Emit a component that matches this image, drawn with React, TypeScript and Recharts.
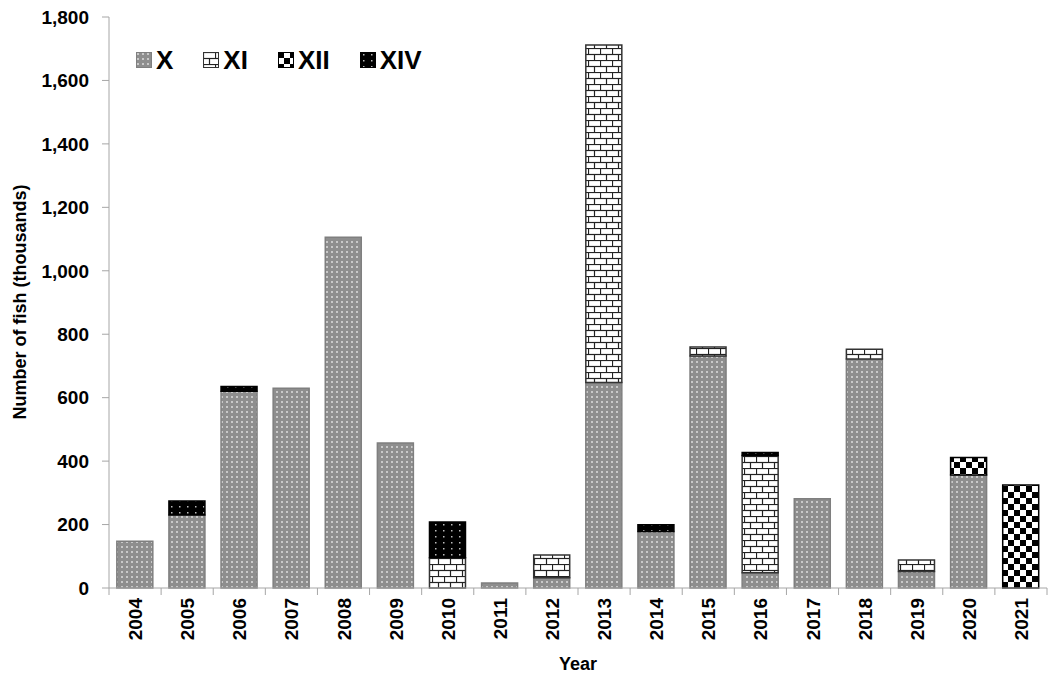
import { BarChart, Bar, XAxis, YAxis } from 'recharts';

const years = ['2004', '2005', '2006', '2007', '2008', '2009', '2010', '2011', '2012',
  '2013', '2014', '2015', '2016', '2017', '2018', '2019', '2020', '2021'];
const zoneX = [147, 230, 620, 630, 1106, 457, 0, 16, 32, 648, 178, 731, 48, 281, 722, 52, 356, 0];
const zoneXI = [0, 0, 0, 0, 0, 0, 95, 0, 72, 1064, 0, 29, 370, 0, 31, 36, 0, 0];
const zoneXII = [0, 0, 0, 0, 0, 0, 0, 0, 0, 0, 0, 0, 0, 0, 0, 0, 55, 325];
const zoneXIV = [0, 44, 15, 0, 0, 0, 113, 0, 0, 0, 21, 0, 9, 0, 0, 0, 0, 0];
const yTicks = [0, 200, 400, 600, 800, 1000, 1200, 1400, 1600, 1800];

const series = [
  { key: 'X', fill: 'url(#patX)', stroke: '#7f7f7f' },
  { key: 'XI', fill: 'url(#patXI)', stroke: '#333333' },
  { key: 'XII', fill: 'url(#patXII)', stroke: '#000000' },
  { key: 'XIV', fill: 'url(#patXIV)', stroke: '#000000' },
];

const data = years.map((year, i) => ({
  year,
  X: zoneX[i],
  XI: zoneXI[i],
  XII: zoneXII[i],
  XIV: zoneXIV[i],
}));

const FONT = '"Liberation Sans", Arial, sans-serif';
const W = 1050;
const H = 678;
const LEFT = 109;
const RIGHT = 3;
const BAND = (W - LEFT - RIGHT) / years.length;

function XTick(props: any) {
  const { x, y, payload, index } = props;
  const last = index === years.length - 1;
  return (
    <g>
      <line x1={x - BAND / 2} y1={y} x2={x - BAND / 2} y2={y + 7} stroke="#a6a6a6" />
      {last && <line x1={x + BAND / 2} y1={y} x2={x + BAND / 2} y2={y + 7} stroke="#a6a6a6" />}
      <text
        transform={`translate(${x + 7},${y + 10}) rotate(-90)`}
        textAnchor="end"
        fontFamily={FONT}
        fontWeight="bold"
        fontSize={19}
        fill="#000"
      >
        {payload.value}
      </text>
    </g>
  );
}

// legend sits inside the plot, top left
function LegendBox() {
  return (
    <div
      style={{
        position: 'absolute',
        left: 136,
        top: 46,
        display: 'flex',
        alignItems: 'center',
        fontFamily: FONT,
        fontWeight: 'bold',
        fontSize: 26,
        lineHeight: '28px',
      }}
    >
      {series.map((s) => (
        <div key={s.key} style={{ display: 'flex', alignItems: 'center', marginRight: 30 }}>
          <svg width={16} height={16} style={{ marginRight: 4 }}>
            <rect x={0.5} y={0.5} width={15} height={15} fill={s.fill} stroke={s.stroke} />
          </svg>
          <span>{s.key}</span>
        </div>
      ))}
    </div>
  );
}

export default function App() {
  return (
    <div style={{ position: 'absolute', left: 0, top: 0, width: W, height: H, background: '#fff' }}>
      <BarChart
        width={W}
        height={H}
        data={data}
        barCategoryGap="15%"
        margin={{ top: 17, right: RIGHT, bottom: 0, left: 0 }}
      >
        <defs>
          <pattern id="patX" width="5" height="5" patternUnits="userSpaceOnUse">
            <rect width="5" height="5" fill="#8e8e8e" />
            <rect x="1" y="1" width="2" height="2" fill="#c9c9c9" />
          </pattern>
          <pattern id="patXI" width="12" height="12" patternUnits="userSpaceOnUse">
            <rect width="12" height="12" fill="#fff" />
            <line x1="0" y1="0.5" x2="12" y2="0.5" stroke="#222" strokeWidth="1.2" />
            <line x1="0" y1="6.5" x2="12" y2="6.5" stroke="#222" strokeWidth="1.2" />
            <line x1="0.5" y1="0" x2="0.5" y2="6" stroke="#222" strokeWidth="1.2" />
            <line x1="6.5" y1="6" x2="6.5" y2="12" stroke="#222" strokeWidth="1.2" />
          </pattern>
          <pattern id="patXII" width="12" height="12" patternUnits="userSpaceOnUse">
            <rect width="12" height="12" fill="#fff" />
            <rect x="0" y="0" width="6" height="6" fill="#000" />
            <rect x="6" y="6" width="6" height="6" fill="#000" />
          </pattern>
          <pattern id="patXIV" width="8" height="6" patternUnits="userSpaceOnUse">
            <rect width="8" height="6" fill="#000" />
            <rect x="3" y="2" width="1.5" height="1.5" fill="#bbb" />
          </pattern>
        </defs>
        <XAxis
          dataKey="year"
          height={90}
          axisLine={{ stroke: '#a6a6a6' }}
          tickLine={false}
          tickSize={0}
          tickMargin={0}
          interval={0}
          tick={<XTick />}
          label={{
            value: 'Year',
            position: 'insideBottom',
            offset: 8,
            fontFamily: FONT,
            fontWeight: 'bold',
            fontSize: 18,
            fill: '#000',
          }}
        />
        <YAxis
          width={LEFT}
          domain={[0, 1800]}
          ticks={yTicks}
          interval={0}
          tickFormatter={(v: number) => v.toLocaleString('en-US')}
          axisLine={{ stroke: '#a6a6a6' }}
          tickLine={{ stroke: '#a6a6a6' }}
          tickSize={7}
          tickMargin={13}
          tick={{ fontFamily: FONT, fontWeight: 'bold', fontSize: 19, fill: '#000' }}
          label={{
            content: () => (
              <text
                transform="translate(26,302) rotate(-90)"
                textAnchor="middle"
                fontFamily={FONT}
                fontWeight="bold"
                fontSize={18}
                fill="#000"
              >
                Number of fish (thousands)
              </text>
            ),
          }}
        />
        {series.map((s) => (
          <Bar
            key={s.key}
            dataKey={s.key}
            stackId="a"
            fill={s.fill}
            stroke={s.stroke}
            strokeWidth={1.5}
            isAnimationActive={false}
          />
        ))}
      </BarChart>
      <LegendBox />
    </div>
  );
}
